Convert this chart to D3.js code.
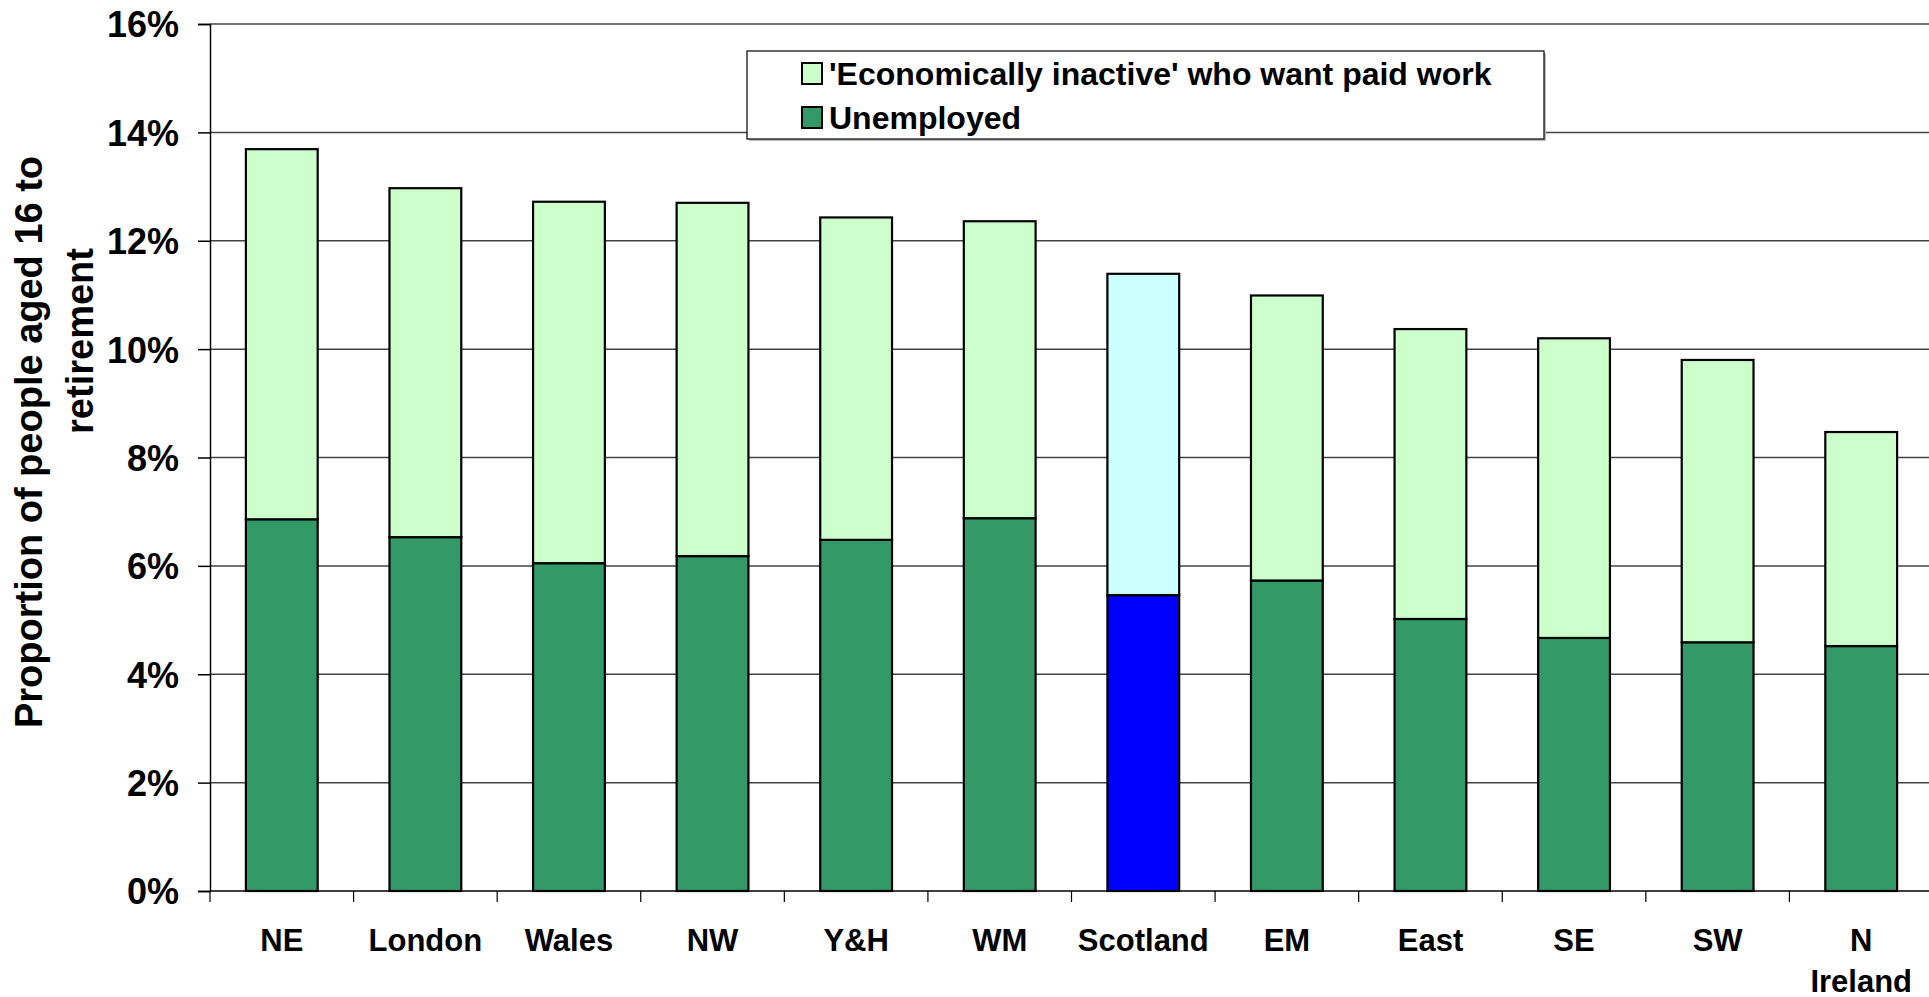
<!DOCTYPE html>
<meta charset="utf-8">
<style>
  body { margin: 0; background: #fff; }
  svg text { font-family: "Liberation Sans", Arial, sans-serif; font-weight: bold; fill: #000; }
</style>
<body>
<script src="https://cdn.jsdelivr.net/npm/d3@7"></script>
<script>
  // regions, sorted by total
  var regions = ["NE", "London", "Wales", "NW", "Y&H", "WM", "Scotland", "EM", "East", "SE", "SW", "N Ireland"];
  var unemployed = [6.86, 6.53, 6.05, 6.18, 6.48, 6.88, 5.46, 5.73, 5.02, 4.67, 4.59, 4.52];
  var inactive = [6.83, 6.44, 6.67, 6.52, 5.95, 5.48, 5.93, 5.26, 5.35, 5.53, 5.21, 3.95];
  var yTicks = [0, 2, 4, 6, 8, 10, 12, 14, 16];
  var seriesNames = ["'Economically inactive' who want paid work", "Unemployed"];
  var highlight = "Scotland";

  var width = 1929, height = 997;
  var plotLeft = 210, plotRight = 1933, plotTop = 24, plotBottom = 891;

  var svg = d3.select("body").append("svg")
    .attr("width", width)
    .attr("height", height);

  var rows = regions.map(function(r, i) {
    return { region: r, unemployed: unemployed[i], inactive: inactive[i] };
  });
  var stacked = d3.stack().keys(["unemployed", "inactive"])(rows);

  var x = d3.scaleBand().domain(regions).range([plotLeft, plotRight])
    .paddingInner(0.5).paddingOuter(0.25);
  var y = d3.scaleLinear().domain([0, 16]).range([plotBottom, plotTop]);

  var fills = {
    unemployed: function(d) { return d.data.region == highlight ? "#0000ff" : "#339966"; },
    inactive: function(d) { return d.data.region == highlight ? "#ccffff" : "#ccffcc"; }
  };

  // gridlines
  svg.append("g").selectAll("line")
    .data(yTicks.filter(function(t) { return t > 0; }))
    .enter().append("line")
    .attr("x1", plotLeft).attr("x2", width)
    .attr("y1", function(d) { return y(d); })
    .attr("y2", function(d) { return y(d); })
    .attr("stroke", "#444")
    .attr("stroke-width", 1.5);

  // bars
  svg.append("g").selectAll("g")
    .data(stacked)
    .enter().append("g")
    .each(function(s) {
      d3.select(this).selectAll("rect")
        .data(s)
        .enter().append("rect")
        .attr("x", function(d) { return x(d.data.region); })
        .attr("width", x.bandwidth())
        .attr("y", function(d) { return y(d[1]); })
        .attr("height", function(d) { return y(d[0]) - y(d[1]); })
        .attr("fill", fills[s.key])
        .attr("stroke", "#000")
        .attr("stroke-width", 2.2);
    });

  // y axis
  var yAxis = svg.append("g")
    .attr("transform", "translate(" + plotLeft + ",0)")
    .call(d3.axisLeft(y).tickValues(yTicks).tickSize(12).tickPadding(19)
      .tickFormat(function(d) { return d + "%"; }));
  yAxis.select(".domain").attr("stroke", "#000").attr("stroke-width", 1.5);
  yAxis.selectAll(".tick line").attr("stroke", "#000").attr("stroke-width", 1.5);
  yAxis.selectAll(".tick text")
    .attr("font-size", 36)
    .attr("font-family", null)
    .attr("dy", "0.36em");

  // x axis: ticks between categories
  var xg = svg.append("g");
  xg.append("line")
    .attr("x1", plotLeft).attr("x2", width)
    .attr("y1", plotBottom).attr("y2", plotBottom)
    .attr("stroke", "#000").attr("stroke-width", 1.5);
  xg.selectAll("line.tk")
    .data(d3.range(regions.length + 1))
    .enter().append("line")
    .attr("class", "tk")
    .attr("x1", function(i) { return plotLeft + i * x.step(); })
    .attr("x2", function(i) { return plotLeft + i * x.step(); })
    .attr("y1", plotBottom).attr("y2", plotBottom + 11)
    .attr("stroke", "#000").attr("stroke-width", 1.2);

  var lab = xg.selectAll("text")
    .data(regions)
    .enter().append("text")
    .attr("text-anchor", "middle")
    .attr("font-size", 31)
    .attr("transform", function(d) {
      return "translate(" + (x(d) + x.bandwidth() / 2) + "," + 951 + ")";
    });
  lab.each(function(d) {
    var parts = d.split(" ");
    d3.select(this).selectAll("tspan")
      .data(parts)
      .enter().append("tspan")
      .attr("x", 0)
      .attr("y", function(p, i) { return i * 41; })
      .text(function(p) { return p; });
  });

  // y axis title (two lines, not centred on each other in the original)
  svg.append("text")
    .attr("text-anchor", "middle").attr("font-size", 38)
    .attr("transform", "translate(42,442) rotate(-90)")
    .text("Proportion of people aged 16 to");
  svg.append("text")
    .attr("text-anchor", "middle").attr("font-size", 38)
    .attr("transform", "translate(93,341) rotate(-90)")
    .text("retirement");

  // legend
  var lg = svg.append("g");
  lg.append("rect")
    .attr("x", 749).attr("y", 53)
    .attr("width", 797).attr("height", 88)
    .attr("fill", "#bbb");
  lg.append("rect")
    .attr("x", 747).attr("y", 51)
    .attr("width", 797).attr("height", 88)
    .attr("fill", "#fff")
    .attr("stroke", "#000").attr("stroke-width", 1.2);
  var legendFill = ["#ccffcc", "#339966"];
  var items = lg.selectAll("g.item")
    .data(seriesNames)
    .enter().append("g")
    .attr("class", "item")
    .attr("transform", function(d, i) { return "translate(802," + (63 + i * 44) + ")"; });
  items.append("rect")
    .attr("width", 20).attr("height", 21)
    .attr("fill", function(d, i) { return legendFill[i]; })
    .attr("stroke", "#000").attr("stroke-width", 2);
  items.append("text")
    .attr("x", 27).attr("y", 22)
    .attr("font-size", 32)
    .text(function(d) { return d; });
</script>
</body>
